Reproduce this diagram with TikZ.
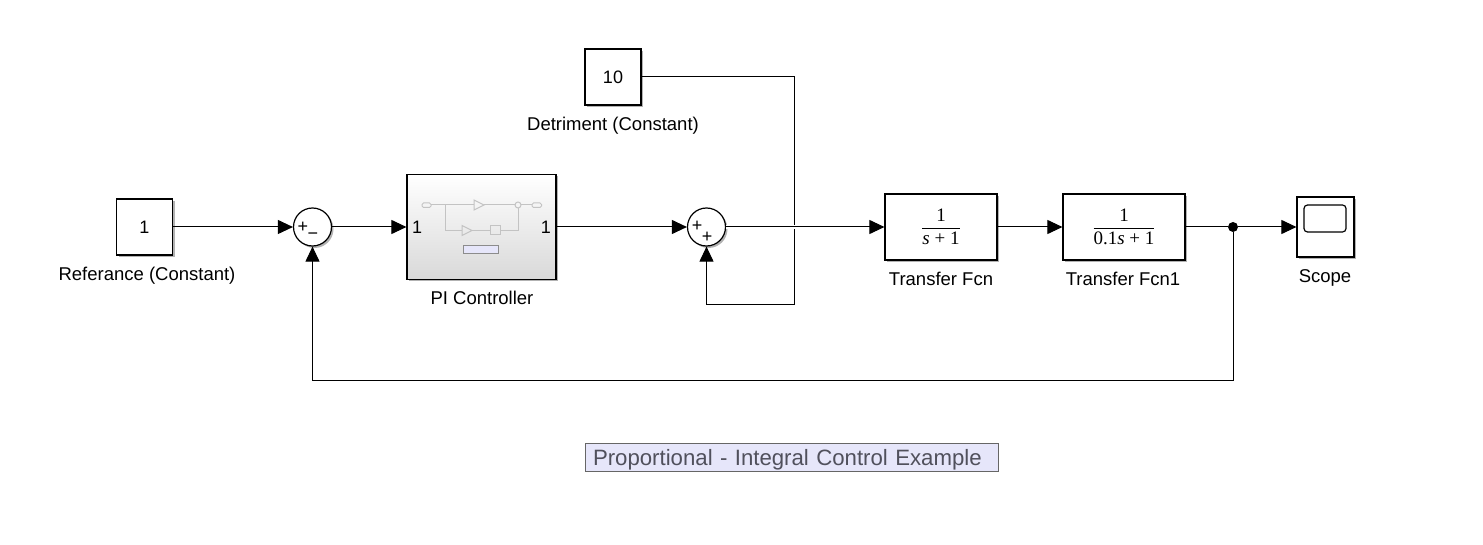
\documentclass[tikz,border=0pt]{standalone}
\usepackage{amsmath}
\usepackage{fontspec}
\setmainfont{Liberation Sans}
\newfontfamily\fracfont{Liberation Serif}
\usepackage{tikz}
\usetikzlibrary{arrows.meta,shadows}
\definecolor{notefill}{RGB}{230,230,250}
\definecolor{notetext}{RGB}{80,80,92}
\definecolor{iconline}{RGB}{195,195,195}
\newcommand{\tffrac}[2]{$\dfrac{\text{\fracfont #1}}{\text{\fracfont #2}}$}
\tikzset{
  blockshadow/.style={drop shadow={shadow xshift=2pt,shadow yshift=-2pt,opacity=0.3,fill=black}},
  block/.style={draw=black,line width=1.2pt,fill=white,inner sep=0pt,blockshadow},
  sumnode/.style={circle,draw=black,line width=1.2pt,fill=white,inner sep=0pt,minimum size=38pt,blockshadow},
  dotnode/.style={circle,fill=black,inner sep=0pt,minimum size=10pt},
  caption/.style={font=\fontsize{18.5}{20}\selectfont,inner sep=0pt},
  value/.style={font=\fontsize{18}{20}\selectfont,inner sep=0pt},
  signs/.style={font=\fontsize{18}{18}\selectfont,inner sep=0pt},
  wire/.style={line width=1pt,-{Triangle[length=15pt,width=14pt]}},
  plain/.style={line width=1pt},
  icon/.style={draw=iconline,line width=1pt}
}
\begin{document}
\begin{tikzpicture}[x=1pt,y=-1pt]
  \useasboundingbox[fill=white] (0,0) rectangle (1483,545);

  % Constants
  \node[block,minimum width=56pt,minimum height=56pt,value] (reference) at (144.5,227) {1};
  \node[caption] (referencelabel) at (147,276) {Referance (Constant)};
  \node[block,minimum width=56pt,minimum height=56pt,value] (detriment) at (613,77) {10};
  \node[caption] (detrimentlabel) at (613,126) {Detriment (Constant)};

  % Sums
  \node[sumnode] (sumone) at (312.5,227) {};
  \node[signs] (sumoneplus) at (303,227) {+};
  \node[signs] (sumoneminus) at (313,236) {\textminus};
  \node[sumnode] (sumtwo) at (706.5,227) {};
  \node[signs] (sumtwoplus) at (697,226) {+};
  \node[signs] (sumtwoplusb) at (707,237) {+};

  % PI Controller
  \node[block,minimum width=149pt,minimum height=105pt,top color=white,middle color=white,bottom color=black!15] (pi) at (481.5,227) {};
  \node[value,anchor=west] (piin) at (412,227.5) {1};
  \node[value,anchor=east] (piout) at (551,227.5) {1};
  \node[caption] (pilabel) at (482,298) {PI Controller};

  % PI Controller: small icon inside
  \draw[icon] (431,205) -- (474,205) (484,205) -- (515,205) (521,205) -- (532,205);
  \draw[icon] (445,205) -- (445,230.5) -- (462,230.5) (472,230.5) -- (490,230.5) (500,230.5) -- (518,230.5) -- (518,208);
  \draw[icon,rounded corners=1.5pt] (422,203) rectangle (431,207.5) (532,203) rectangle (541.5,207.5);
  \draw[icon] (474,200) -- (484,205) -- (474,210) -- cycle;
  \draw[icon] (462,225.5) -- (472,230.5) -- (462,235.5) -- cycle;
  \draw[icon] (490,225.5) rectangle (500,235);
  \draw[icon] (518,205) circle (3pt);
  \draw[fill=notefill,draw=black!45,line width=0.8pt] (463,245.5) rectangle (498,253.5);

  % Transfer functions
  \node[block,minimum width=112pt,minimum height=66pt,font=\fontsize{19}{21}\selectfont] (tfone) at (941,227) {\tffrac{1}{\textit{s} + 1}};
  \node[caption] (tfonelabel) at (941,279) {Transfer Fcn};
  \node[block,minimum width=122pt,minimum height=66pt,font=\fontsize{19}{21}\selectfont] (tftwo) at (1124,227) {\tffrac{1}{0.1\textit{s} + 1}};
  \node[caption] (tftwolabel) at (1123,279) {Transfer Fcn1};

  % Scope
  \node[block,minimum width=57pt,minimum height=60pt] (scope) at (1325.5,227) {};
  \node[draw=black,line width=1.2pt,rounded corners=3.5pt,minimum width=42pt,minimum height=27pt,inner sep=0pt] (screen) at (1325,218.5) {};
  \node[caption] (scopelabel) at (1325,278) {Scope};

  % Branch point and corners
  \node[dotnode] (branch) at (1233,227) {};
  \coordinate (feedback) at (1233,380);
  \coordinate (loopcorner) at (794,305);

  % Connectors
  \draw[wire] (detriment.east) -| (loopcorner) -| (sumtwo.south);
  \draw[wire] (reference.east) -- (sumone.west);
  \draw[wire] (sumone.east) -- (pi.west);
  \draw[wire] (pi.east) -- (sumtwo.west);
  \draw[wire,preaction={draw=white,line width=3.5pt,-}] (sumtwo.east) -- (tfone.west);
  \draw[wire] (tfone.east) -- (tftwo.west);
  \draw[plain] (tftwo.east) -- (branch);
  \draw[wire] (branch) -- (scope.west);
  \draw[wire] (branch) -- (feedback) -| (sumone.south);

  % Annotation
  \node[draw=black!60,line width=0.8pt,fill=notefill,text=notetext,inner xsep=8pt,inner ysep=6pt,text width=397pt,text height=16pt,text depth=0pt,font=\fontsize{22.2}{24}\selectfont] (note) at (791.5,457) {Proportional - Integral Control Example};
\end{tikzpicture}
\end{document}
